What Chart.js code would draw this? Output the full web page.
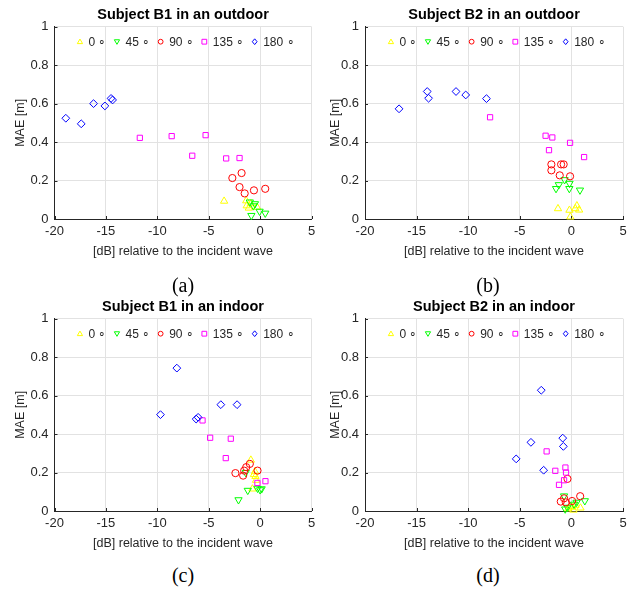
<!DOCTYPE html>
<html>
<head>
<meta charset="utf-8">
<script src="https://cdn.jsdelivr.net/npm/chart.js@4.4.1/dist/chart.umd.min.js"></script>
<style>
  body { margin: 0; background: #fff; width: 633px; height: 593px; position: relative; overflow: hidden; }
  .panel { position: absolute; }
  .cap { position: absolute; font-family: "Liberation Serif", "Times New Roman", serif; font-size: 20px; color: #000; transform: translate(-50%, -50%); }
</style>
</head>
<body>
<div class="panel" style="left:0;top:0;width:320px;height:260px"><canvas id="pa"></canvas></div>
<div class="panel" style="left:320px;top:0;width:313px;height:260px"><canvas id="pb"></canvas></div>
<div class="panel" style="left:0;top:292px;width:320px;height:260px"><canvas id="pc"></canvas></div>
<div class="panel" style="left:320px;top:292px;width:313px;height:260px"><canvas id="pd"></canvas></div>
<div class="cap" style="left:183px;top:285px">(a)</div>
<div class="cap" style="left:488px;top:285px">(b)</div>
<div class="cap" style="left:183px;top:575px">(c)</div>
<div class="cap" style="left:488px;top:575px">(d)</div>
<script>
// angle labels and axis ticks
const angles = ["0", "45", "90", "135", "180"];
const xTicks = [-20, -15, -10, -5, 0, 5];
const xTickLabels = ["-20", "-15", "-10", "-5", "0", "5"];
const yTicks = [0, 0.2, 0.4, 0.6, 0.8, 1];
const yTickLabels = ["0", "0.2", "0.4", "0.6", "0.8", "1"];

// (a) Subject B1 outdoor, [dB, MAE]
const b1Out0 = [[-3.5, 0.093], [-1.35, 0.095], [-1.3, 0.069], [-1.1, 0.057], [-0.3, 0.062], [-0.9, 0.08]];
const b1Out45 = [[-1.0, 0.088], [-0.5, 0.079], [-0.65, 0.068], [-0.85, 0.018], [-0.05, 0.04], [0.5, 0.03]];
const b1Out90 = [[-2.7, 0.213], [-1.8, 0.239], [-2.0, 0.166], [-1.5, 0.133], [-0.6, 0.149], [0.5, 0.157]];
const b1Out135 = [[-11.7, 0.422], [-8.6, 0.431], [-6.6, 0.329], [-5.3, 0.436], [-3.3, 0.315], [-2.0, 0.317]];
const b1Out180 = [[-18.9, 0.524], [-17.4, 0.495], [-16.2, 0.6], [-15.1, 0.588], [-14.5, 0.627], [-14.35, 0.619]];

// (b) Subject B2 outdoor
const b2Out0 = [[-1.3, 0.054], [-0.19, 0.046], [-0.1, 0.011], [0.53, 0.069], [0.38, 0.054], [0.75, 0.047]];
const b2Out45 = [[-1.49, 0.158], [-1.22, 0.178], [-0.66, 0.204], [-0.18, 0.185], [-0.2, 0.158], [0.83, 0.15]];
const b2Out90 = [[-1.94, 0.284], [-1.94, 0.253], [-1.0, 0.284], [-0.75, 0.284], [-1.13, 0.227], [-0.13, 0.222]];
const b2Out135 = [[-7.88, 0.529], [-2.5, 0.433], [-1.85, 0.424], [-2.17, 0.358], [-0.13, 0.396], [1.23, 0.322]];
const b2Out180 = [[-16.7, 0.573], [-13.97, 0.663], [-13.84, 0.628], [-11.18, 0.663], [-10.24, 0.645], [-8.23, 0.626]];

// (c) Subject B1 indoor
const b1In0 = [[-0.9, 0.265], [-0.5, 0.205], [-0.45, 0.18], [-0.4, 0.16], [-0.75, 0.115], [-0.6, 0.19]];
const b1In45 = [[-2.1, 0.058], [-1.2, 0.107], [-0.25, 0.118], [0.0, 0.11], [0.15, 0.115], [-1.4, 0.2]];
const b1In90 = [[-2.4, 0.197], [-1.65, 0.184], [-1.55, 0.21], [-1.35, 0.228], [-1.0, 0.245], [-0.25, 0.21]];
const b1In135 = [[-5.6, 0.471], [-4.86, 0.381], [-2.85, 0.376], [-3.34, 0.275], [-0.26, 0.146], [0.52, 0.155]];
const b1In180 = [[-9.69, 0.501], [-8.1, 0.743], [-6.22, 0.478], [-6.03, 0.487], [-3.82, 0.553], [-2.24, 0.553]];

// (d) Subject B2 indoor
const b2In0 = [[0.88, 0.016], [0.1, 0.02], [0.4, 0.03], [-0.3, 0.012], [0.2, 0.005], [-0.1, 0.025]];
const b2In45 = [[-0.71, 0.078], [1.3, 0.053], [0.26, 0.035], [-0.38, 0.019], [0.5, 0.045], [-0.6, 0.01]];
const b2In90 = [[-0.38, 0.167], [0.85, 0.077], [-0.71, 0.066], [-1.03, 0.049], [-0.54, 0.045], [0.07, 0.052]];
const b2In135 = [[-2.4, 0.31], [-1.56, 0.209], [-1.2, 0.136], [-0.58, 0.226], [-0.52, 0.2], [-0.71, 0.16]];
const b2In180 = [[-2.92, 0.628], [-5.35, 0.271], [-3.92, 0.357], [-2.69, 0.212], [-0.84, 0.379], [-0.78, 0.336]];

const colors = ["#ffff00", "#00ff00", "#ff0000", "#ff00ff", "#0000ff"];
const markers = ["triangle", "triangle", "circle", "rect", "rectRot"];
const rotations = [0, 180, 0, 0, 0];
const radii = [4.2, 4.2, 3.6, 3.7, 3.9];
const ink = "#262626";
const gridColor = "#e2e2e2";
const fontFamily = "'Liberation Sans', Arial, Helvetica, sans-serif";

Chart.defaults.font.family = fontFamily;
Chart.defaults.animation = false;

// matlab style ticks pointing into the axes
const inTicks = {
  id: "inTicks",
  beforeDatasetsDraw(chart) {
    const { ctx, chartArea, scales } = chart;
    ctx.save();
    ctx.strokeStyle = ink;
    ctx.lineWidth = 1;
    ctx.beginPath();
    scales.x.ticks.forEach((t) => {
      const px = Math.round(scales.x.getPixelForValue(t.value)) + 0.5;
      ctx.moveTo(px, chartArea.bottom);
      ctx.lineTo(px, chartArea.bottom - 3);
    });
    scales.y.ticks.forEach((t) => {
      const py = Math.round(scales.y.getPixelForValue(t.value)) + 0.5;
      ctx.moveTo(chartArea.left, py);
      ctx.lineTo(chartArea.left + 3, py);
    });
    ctx.stroke();
    ctx.restore();
  },
};

function legendMarker(ctx, style, rot, x, y, r) {
  ctx.beginPath();
  if (style === "circle") {
    ctx.arc(x, y, r, 0, Math.PI * 2);
  } else if (style === "rect") {
    ctx.rect(x - r, y - r, 2 * r, 2 * r);
  } else if (style === "rectRot") {
    ctx.moveTo(x, y - r * 1.2);
    ctx.lineTo(x + r, y);
    ctx.lineTo(x, y + r * 1.2);
    ctx.lineTo(x - r, y);
    ctx.closePath();
  } else {
    const s = rot === 180 ? -1 : 1;
    ctx.moveTo(x, y - s * r * 1.1);
    ctx.lineTo(x + r * 1.1, y + s * r * 0.8);
    ctx.lineTo(x - r * 1.1, y + s * r * 0.8);
    ctx.closePath();
  }
  ctx.stroke();
}

// one-row legend inside the top of the axes, in dataset order
const rowLegend = {
  id: "rowLegend",
  afterDatasetsDraw(chart) {
    const { ctx, chartArea } = chart;
    const ds = chart.data.datasets;
    ctx.save();
    ctx.font = "12px " + fontFamily;
    ctx.textBaseline = "middle";
    const mark = 5, gap = 6, pad = 8;
    const widths = ds.map((d) => mark + gap + ctx.measureText(d.label).width);
    const total = widths.reduce((a, b) => a + b, 0) + pad * (ds.length - 1);
    let x = (chartArea.left + chartArea.right) / 2 - total / 2 + 3;
    const y = chartArea.top + 15;
    ds.forEach((d, i) => {
      ctx.strokeStyle = d.borderColor;
      ctx.lineWidth = 1;
      legendMarker(ctx, d.pointStyle, d.rotation, x + mark / 2, y, 2.4);
      ctx.fillStyle = ink;
      ctx.fillText(d.label, x + mark + gap, y + 0.5);
      x += widths[i] + pad;
    });
    ctx.restore();
  },
};

function makeChart(id, title, series, yWidth, yTitlePad, rightPad) {
  const datasets = series.map((pts, i) => ({
    label: angles[i] + " \u2218",
    data: pts.map((p) => ({ x: p[0], y: p[1] })),
    pointStyle: markers[i],
    rotation: rotations[i],
    pointRadius: radii[i],
    pointHoverRadius: radii[i],
    borderColor: colors[i],
    backgroundColor: "rgba(0,0,0,0)",
    borderWidth: 1,
    order: 5 - i,
    clip: false,
  }));

  return new Chart(document.getElementById(id), {
    type: "scatter",
    data: { datasets: datasets },
    options: {
      responsive: true,
      maintainAspectRatio: false,
      layout: { padding: { left: 0, right: rightPad, top: 0, bottom: 0 } },
      scales: {
        x: {
          type: "linear",
          min: -20,
          max: 5,
          afterBuildTicks: (s) => {
            s.ticks = xTicks.map((v) => ({ value: v }));
          },
          afterFit: (s) => {
            s.height = 41;
            s.paddingLeft = 0;
            s.paddingRight = 0;
          },
          ticks: {
            callback: (v) => xTickLabels[xTicks.indexOf(v)],
            color: ink,
            font: { size: 13 },
            padding: 5,
            maxRotation: 0,
          },
          grid: { color: gridColor, drawTicks: false },
          border: { color: ink },
          title: {
            display: true,
            text: "[dB] relative to the incident wave",
            color: ink,
            font: { size: 12.5 },
            padding: { top: 0, bottom: 1 },
          },
        },
        y: {
          type: "linear",
          min: 0,
          max: 1,
          afterBuildTicks: (s) => {
            s.ticks = yTicks.map((v) => ({ value: v }));
          },
          afterFit: (s) => {
            s.width = yWidth;
            s.paddingTop = 0;
            s.paddingBottom = 0;
          },
          ticks: {
            callback: (v) => yTickLabels[yTicks.indexOf(v)],
            color: ink,
            font: { size: 13 },
            padding: 6,
          },
          grid: { color: gridColor, drawTicks: false },
          border: { color: ink },
          title: {
            display: true,
            text: "MAE [m]",
            color: ink,
            font: { size: 12.5 },
            padding: { top: yTitlePad, bottom: 0 },
          },
        },
      },
      plugins: {
        title: {
          display: true,
          text: title,
          color: "#000",
          fullSize: false,
          font: { size: 14.5, weight: "bold" },
          padding: { top: 6.3, bottom: 3 },
        },
        legend: { display: false },
        tooltip: { enabled: false },
      },
    },
    plugins: [inTicks, rowLegend],
  });
}

makeChart("pa", "Subject B1 in an outdoor", [b1Out0, b1Out45, b1Out90, b1Out135, b1Out180], 54.5, 13.5, 8.5);
makeChart("pb", "Subject B2 in an outdoor", [b2Out0, b2Out45, b2Out90, b2Out135, b2Out180], 45, 8, 10);
makeChart("pc", "Subject B1 in an indoor", [b1In0, b1In45, b1In90, b1In135, b1In180], 54.5, 13.5, 8.5);
makeChart("pd", "Subject B2 in an indoor", [b2In0, b2In45, b2In90, b2In135, b2In180], 45, 8, 10);
</script>
</body>
</html>
